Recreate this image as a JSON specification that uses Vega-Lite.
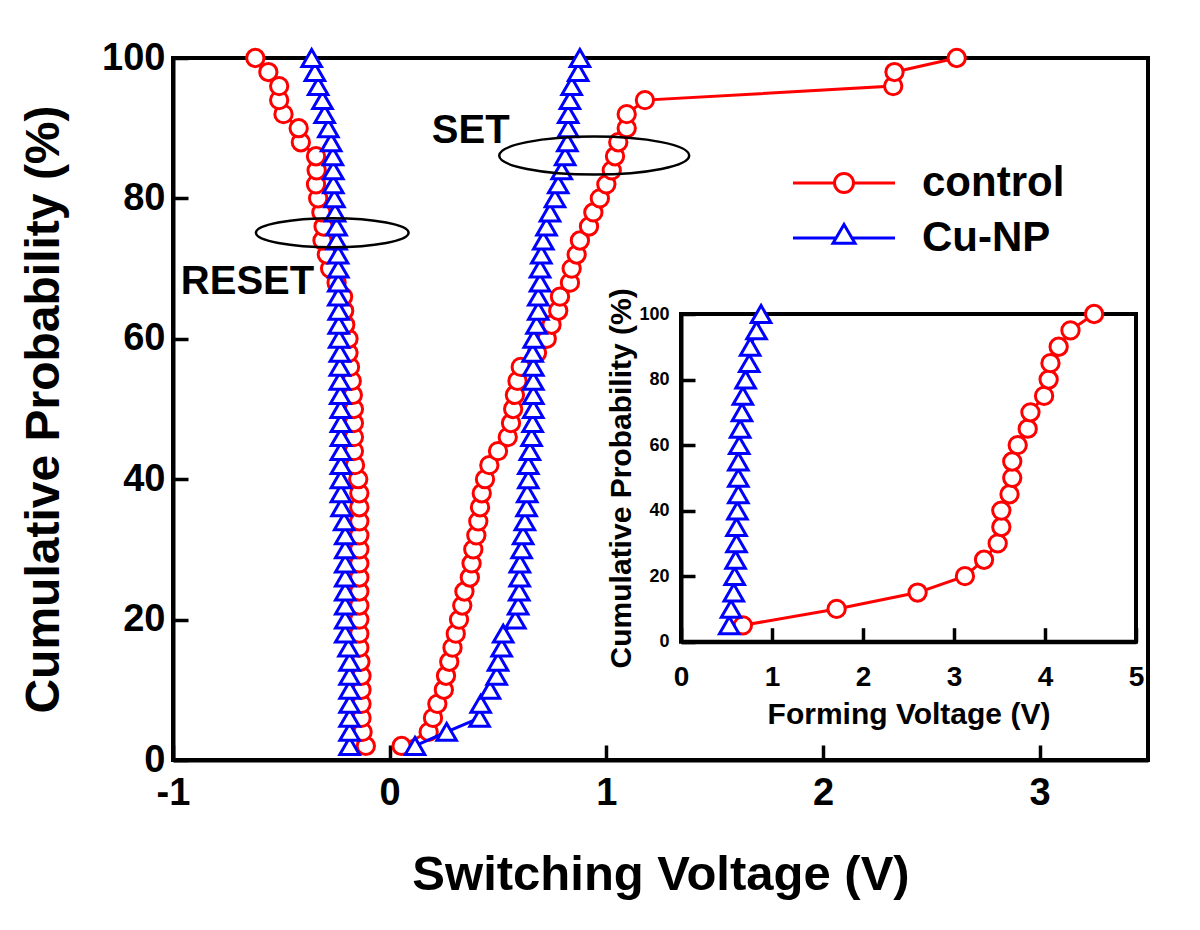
{
  "$schema": "https://vega.github.io/schema/vega-lite/v6.json",
  "width": 975,
  "height": 702,
  "autosize": {"type": "none"},
  "padding": {"left": 173, "top": 58, "right": 52, "bottom": 170},
  "background": "white",
  "config": {
    "font": "Liberation Sans",
    "view": {"stroke": "black", "strokeWidth": 4},
    "axis": {
      "grid": false,
      "domainColor": "black",
      "domainWidth": 4,
      "tickColor": "black",
      "tickWidth": 3,
      "labelColor": "black",
      "titleColor": "black",
      "labelFont": "Liberation Sans",
      "titleFont": "Liberation Sans",
      "labelFontWeight": "bold",
      "titleFontWeight": "bold",
      "labelFlush": false,
      "labelOverlap": false,
      "zindex": 1
    }
  },
  "datasets": {
    "main": [
      {"series": "control", "mode": "RESET", "p": 2, "v": -0.11},
      {"series": "control", "mode": "RESET", "p": 4, "v": -0.125},
      {"series": "control", "mode": "RESET", "p": 6, "v": -0.13},
      {"series": "control", "mode": "RESET", "p": 8, "v": -0.13},
      {"series": "control", "mode": "RESET", "p": 10, "v": -0.13},
      {"series": "control", "mode": "RESET", "p": 12, "v": -0.13},
      {"series": "control", "mode": "RESET", "p": 14, "v": -0.135},
      {"series": "control", "mode": "RESET", "p": 16, "v": -0.14},
      {"series": "control", "mode": "RESET", "p": 18, "v": -0.14},
      {"series": "control", "mode": "RESET", "p": 20, "v": -0.14},
      {"series": "control", "mode": "RESET", "p": 22, "v": -0.14},
      {"series": "control", "mode": "RESET", "p": 24, "v": -0.14},
      {"series": "control", "mode": "RESET", "p": 26, "v": -0.14},
      {"series": "control", "mode": "RESET", "p": 28, "v": -0.14},
      {"series": "control", "mode": "RESET", "p": 30, "v": -0.14},
      {"series": "control", "mode": "RESET", "p": 32, "v": -0.14},
      {"series": "control", "mode": "RESET", "p": 34, "v": -0.14},
      {"series": "control", "mode": "RESET", "p": 36, "v": -0.14},
      {"series": "control", "mode": "RESET", "p": 38, "v": -0.14},
      {"series": "control", "mode": "RESET", "p": 40, "v": -0.145},
      {"series": "control", "mode": "RESET", "p": 42, "v": -0.16},
      {"series": "control", "mode": "RESET", "p": 44, "v": -0.165},
      {"series": "control", "mode": "RESET", "p": 46, "v": -0.165},
      {"series": "control", "mode": "RESET", "p": 48, "v": -0.165},
      {"series": "control", "mode": "RESET", "p": 50, "v": -0.165},
      {"series": "control", "mode": "RESET", "p": 52, "v": -0.17},
      {"series": "control", "mode": "RESET", "p": 54, "v": -0.175},
      {"series": "control", "mode": "RESET", "p": 56, "v": -0.183},
      {"series": "control", "mode": "RESET", "p": 58, "v": -0.19},
      {"series": "control", "mode": "RESET", "p": 60, "v": -0.19},
      {"series": "control", "mode": "RESET", "p": 62, "v": -0.205},
      {"series": "control", "mode": "RESET", "p": 64, "v": -0.21},
      {"series": "control", "mode": "RESET", "p": 66, "v": -0.215},
      {"series": "control", "mode": "RESET", "p": 68, "v": -0.245},
      {"series": "control", "mode": "RESET", "p": 70, "v": -0.275},
      {"series": "control", "mode": "RESET", "p": 72, "v": -0.29},
      {"series": "control", "mode": "RESET", "p": 74, "v": -0.31},
      {"series": "control", "mode": "RESET", "p": 76, "v": -0.305},
      {"series": "control", "mode": "RESET", "p": 78, "v": -0.315},
      {"series": "control", "mode": "RESET", "p": 80, "v": -0.33},
      {"series": "control", "mode": "RESET", "p": 82, "v": -0.34},
      {"series": "control", "mode": "RESET", "p": 84, "v": -0.337},
      {"series": "control", "mode": "RESET", "p": 86, "v": -0.34},
      {"series": "control", "mode": "RESET", "p": 88, "v": -0.41},
      {"series": "control", "mode": "RESET", "p": 90, "v": -0.42},
      {"series": "control", "mode": "RESET", "p": 92, "v": -0.49},
      {"series": "control", "mode": "RESET", "p": 94, "v": -0.51},
      {"series": "control", "mode": "RESET", "p": 96, "v": -0.51},
      {"series": "control", "mode": "RESET", "p": 98, "v": -0.56},
      {"series": "control", "mode": "RESET", "p": 100, "v": -0.62},
      {"series": "control", "mode": "SET", "p": 2, "v": 0.055},
      {"series": "control", "mode": "SET", "p": 4, "v": 0.18},
      {"series": "control", "mode": "SET", "p": 6, "v": 0.2},
      {"series": "control", "mode": "SET", "p": 8, "v": 0.22},
      {"series": "control", "mode": "SET", "p": 10, "v": 0.25},
      {"series": "control", "mode": "SET", "p": 12, "v": 0.26},
      {"series": "control", "mode": "SET", "p": 14, "v": 0.275},
      {"series": "control", "mode": "SET", "p": 16, "v": 0.29},
      {"series": "control", "mode": "SET", "p": 18, "v": 0.305},
      {"series": "control", "mode": "SET", "p": 20, "v": 0.32},
      {"series": "control", "mode": "SET", "p": 22, "v": 0.335},
      {"series": "control", "mode": "SET", "p": 24, "v": 0.345},
      {"series": "control", "mode": "SET", "p": 26, "v": 0.37},
      {"series": "control", "mode": "SET", "p": 28, "v": 0.378},
      {"series": "control", "mode": "SET", "p": 30, "v": 0.386},
      {"series": "control", "mode": "SET", "p": 32, "v": 0.4},
      {"series": "control", "mode": "SET", "p": 34, "v": 0.409},
      {"series": "control", "mode": "SET", "p": 36, "v": 0.417},
      {"series": "control", "mode": "SET", "p": 38, "v": 0.425},
      {"series": "control", "mode": "SET", "p": 40, "v": 0.44},
      {"series": "control", "mode": "SET", "p": 42, "v": 0.46},
      {"series": "control", "mode": "SET", "p": 44, "v": 0.5},
      {"series": "control", "mode": "SET", "p": 46, "v": 0.545},
      {"series": "control", "mode": "SET", "p": 48, "v": 0.56},
      {"series": "control", "mode": "SET", "p": 50, "v": 0.57},
      {"series": "control", "mode": "SET", "p": 52, "v": 0.578},
      {"series": "control", "mode": "SET", "p": 54, "v": 0.59},
      {"series": "control", "mode": "SET", "p": 56, "v": 0.605},
      {"series": "control", "mode": "SET", "p": 58, "v": 0.68},
      {"series": "control", "mode": "SET", "p": 60, "v": 0.725},
      {"series": "control", "mode": "SET", "p": 62, "v": 0.747},
      {"series": "control", "mode": "SET", "p": 64, "v": 0.778},
      {"series": "control", "mode": "SET", "p": 66, "v": 0.786},
      {"series": "control", "mode": "SET", "p": 68, "v": 0.832},
      {"series": "control", "mode": "SET", "p": 70, "v": 0.84},
      {"series": "control", "mode": "SET", "p": 72, "v": 0.863},
      {"series": "control", "mode": "SET", "p": 74, "v": 0.878},
      {"series": "control", "mode": "SET", "p": 76, "v": 0.92},
      {"series": "control", "mode": "SET", "p": 78, "v": 0.94},
      {"series": "control", "mode": "SET", "p": 80, "v": 0.97},
      {"series": "control", "mode": "SET", "p": 82, "v": 1.0},
      {"series": "control", "mode": "SET", "p": 84, "v": 1.025},
      {"series": "control", "mode": "SET", "p": 86, "v": 1.04},
      {"series": "control", "mode": "SET", "p": 88, "v": 1.055},
      {"series": "control", "mode": "SET", "p": 90, "v": 1.094},
      {"series": "control", "mode": "SET", "p": 92, "v": 1.094},
      {"series": "control", "mode": "SET", "p": 94, "v": 1.178},
      {"series": "control", "mode": "SET", "p": 96, "v": 2.324},
      {"series": "control", "mode": "SET", "p": 98, "v": 2.33},
      {"series": "control", "mode": "SET", "p": 100, "v": 2.617},
      {"series": "Cu-NP", "mode": "RESET", "p": 2, "v": -0.185},
      {"series": "Cu-NP", "mode": "RESET", "p": 4, "v": -0.185},
      {"series": "Cu-NP", "mode": "RESET", "p": 6, "v": -0.185},
      {"series": "Cu-NP", "mode": "RESET", "p": 8, "v": -0.185},
      {"series": "Cu-NP", "mode": "RESET", "p": 10, "v": -0.185},
      {"series": "Cu-NP", "mode": "RESET", "p": 12, "v": -0.185},
      {"series": "Cu-NP", "mode": "RESET", "p": 14, "v": -0.185},
      {"series": "Cu-NP", "mode": "RESET", "p": 16, "v": -0.19},
      {"series": "Cu-NP", "mode": "RESET", "p": 18, "v": -0.205},
      {"series": "Cu-NP", "mode": "RESET", "p": 20, "v": -0.205},
      {"series": "Cu-NP", "mode": "RESET", "p": 22, "v": -0.205},
      {"series": "Cu-NP", "mode": "RESET", "p": 24, "v": -0.205},
      {"series": "Cu-NP", "mode": "RESET", "p": 26, "v": -0.205},
      {"series": "Cu-NP", "mode": "RESET", "p": 28, "v": -0.205},
      {"series": "Cu-NP", "mode": "RESET", "p": 30, "v": -0.205},
      {"series": "Cu-NP", "mode": "RESET", "p": 32, "v": -0.205},
      {"series": "Cu-NP", "mode": "RESET", "p": 34, "v": -0.21},
      {"series": "Cu-NP", "mode": "RESET", "p": 36, "v": -0.222},
      {"series": "Cu-NP", "mode": "RESET", "p": 38, "v": -0.225},
      {"series": "Cu-NP", "mode": "RESET", "p": 40, "v": -0.225},
      {"series": "Cu-NP", "mode": "RESET", "p": 42, "v": -0.225},
      {"series": "Cu-NP", "mode": "RESET", "p": 44, "v": -0.225},
      {"series": "Cu-NP", "mode": "RESET", "p": 46, "v": -0.225},
      {"series": "Cu-NP", "mode": "RESET", "p": 48, "v": -0.225},
      {"series": "Cu-NP", "mode": "RESET", "p": 50, "v": -0.226},
      {"series": "Cu-NP", "mode": "RESET", "p": 52, "v": -0.228},
      {"series": "Cu-NP", "mode": "RESET", "p": 54, "v": -0.23},
      {"series": "Cu-NP", "mode": "RESET", "p": 56, "v": -0.23},
      {"series": "Cu-NP", "mode": "RESET", "p": 58, "v": -0.23},
      {"series": "Cu-NP", "mode": "RESET", "p": 60, "v": -0.233},
      {"series": "Cu-NP", "mode": "RESET", "p": 62, "v": -0.235},
      {"series": "Cu-NP", "mode": "RESET", "p": 64, "v": -0.235},
      {"series": "Cu-NP", "mode": "RESET", "p": 66, "v": -0.237},
      {"series": "Cu-NP", "mode": "RESET", "p": 68, "v": -0.237},
      {"series": "Cu-NP", "mode": "RESET", "p": 70, "v": -0.237},
      {"series": "Cu-NP", "mode": "RESET", "p": 72, "v": -0.238},
      {"series": "Cu-NP", "mode": "RESET", "p": 74, "v": -0.245},
      {"series": "Cu-NP", "mode": "RESET", "p": 76, "v": -0.245},
      {"series": "Cu-NP", "mode": "RESET", "p": 78, "v": -0.252},
      {"series": "Cu-NP", "mode": "RESET", "p": 80, "v": -0.255},
      {"series": "Cu-NP", "mode": "RESET", "p": 82, "v": -0.26},
      {"series": "Cu-NP", "mode": "RESET", "p": 84, "v": -0.26},
      {"series": "Cu-NP", "mode": "RESET", "p": 86, "v": -0.262},
      {"series": "Cu-NP", "mode": "RESET", "p": 88, "v": -0.27},
      {"series": "Cu-NP", "mode": "RESET", "p": 90, "v": -0.283},
      {"series": "Cu-NP", "mode": "RESET", "p": 92, "v": -0.3},
      {"series": "Cu-NP", "mode": "RESET", "p": 94, "v": -0.31},
      {"series": "Cu-NP", "mode": "RESET", "p": 96, "v": -0.33},
      {"series": "Cu-NP", "mode": "RESET", "p": 98, "v": -0.345},
      {"series": "Cu-NP", "mode": "RESET", "p": 100, "v": -0.36},
      {"series": "Cu-NP", "mode": "SET", "p": 2, "v": 0.117},
      {"series": "Cu-NP", "mode": "SET", "p": 4, "v": 0.263},
      {"series": "Cu-NP", "mode": "SET", "p": 6, "v": 0.415},
      {"series": "Cu-NP", "mode": "SET", "p": 8, "v": 0.42},
      {"series": "Cu-NP", "mode": "SET", "p": 10, "v": 0.463},
      {"series": "Cu-NP", "mode": "SET", "p": 12, "v": 0.494},
      {"series": "Cu-NP", "mode": "SET", "p": 14, "v": 0.5},
      {"series": "Cu-NP", "mode": "SET", "p": 16, "v": 0.517},
      {"series": "Cu-NP", "mode": "SET", "p": 18, "v": 0.524},
      {"series": "Cu-NP", "mode": "SET", "p": 20, "v": 0.58},
      {"series": "Cu-NP", "mode": "SET", "p": 22, "v": 0.593},
      {"series": "Cu-NP", "mode": "SET", "p": 24, "v": 0.598},
      {"series": "Cu-NP", "mode": "SET", "p": 26, "v": 0.6},
      {"series": "Cu-NP", "mode": "SET", "p": 28, "v": 0.601},
      {"series": "Cu-NP", "mode": "SET", "p": 30, "v": 0.609},
      {"series": "Cu-NP", "mode": "SET", "p": 32, "v": 0.616},
      {"series": "Cu-NP", "mode": "SET", "p": 34, "v": 0.624},
      {"series": "Cu-NP", "mode": "SET", "p": 36, "v": 0.632},
      {"series": "Cu-NP", "mode": "SET", "p": 38, "v": 0.635},
      {"series": "Cu-NP", "mode": "SET", "p": 40, "v": 0.64},
      {"series": "Cu-NP", "mode": "SET", "p": 42, "v": 0.64},
      {"series": "Cu-NP", "mode": "SET", "p": 44, "v": 0.647},
      {"series": "Cu-NP", "mode": "SET", "p": 46, "v": 0.655},
      {"series": "Cu-NP", "mode": "SET", "p": 48, "v": 0.66},
      {"series": "Cu-NP", "mode": "SET", "p": 50, "v": 0.663},
      {"series": "Cu-NP", "mode": "SET", "p": 52, "v": 0.663},
      {"series": "Cu-NP", "mode": "SET", "p": 54, "v": 0.663},
      {"series": "Cu-NP", "mode": "SET", "p": 56, "v": 0.663},
      {"series": "Cu-NP", "mode": "SET", "p": 58, "v": 0.66},
      {"series": "Cu-NP", "mode": "SET", "p": 60, "v": 0.665},
      {"series": "Cu-NP", "mode": "SET", "p": 62, "v": 0.678},
      {"series": "Cu-NP", "mode": "SET", "p": 64, "v": 0.686},
      {"series": "Cu-NP", "mode": "SET", "p": 66, "v": 0.686},
      {"series": "Cu-NP", "mode": "SET", "p": 68, "v": 0.694},
      {"series": "Cu-NP", "mode": "SET", "p": 70, "v": 0.694},
      {"series": "Cu-NP", "mode": "SET", "p": 72, "v": 0.7},
      {"series": "Cu-NP", "mode": "SET", "p": 74, "v": 0.709},
      {"series": "Cu-NP", "mode": "SET", "p": 76, "v": 0.724},
      {"series": "Cu-NP", "mode": "SET", "p": 78, "v": 0.74},
      {"series": "Cu-NP", "mode": "SET", "p": 80, "v": 0.763},
      {"series": "Cu-NP", "mode": "SET", "p": 82, "v": 0.778},
      {"series": "Cu-NP", "mode": "SET", "p": 84, "v": 0.794},
      {"series": "Cu-NP", "mode": "SET", "p": 86, "v": 0.81},
      {"series": "Cu-NP", "mode": "SET", "p": 88, "v": 0.82},
      {"series": "Cu-NP", "mode": "SET", "p": 90, "v": 0.824},
      {"series": "Cu-NP", "mode": "SET", "p": 92, "v": 0.824},
      {"series": "Cu-NP", "mode": "SET", "p": 94, "v": 0.832},
      {"series": "Cu-NP", "mode": "SET", "p": 96, "v": 0.84},
      {"series": "Cu-NP", "mode": "SET", "p": 98, "v": 0.87},
      {"series": "Cu-NP", "mode": "SET", "p": 100, "v": 0.878}
    ],
    "inset": [
      {"series": "control", "p": 5, "v": 0.68},
      {"series": "control", "p": 10, "v": 1.71},
      {"series": "control", "p": 15, "v": 2.6},
      {"series": "control", "p": 20, "v": 3.12},
      {"series": "control", "p": 25, "v": 3.33},
      {"series": "control", "p": 30, "v": 3.48},
      {"series": "control", "p": 35, "v": 3.52},
      {"series": "control", "p": 40, "v": 3.52},
      {"series": "control", "p": 45, "v": 3.61},
      {"series": "control", "p": 50, "v": 3.64},
      {"series": "control", "p": 55, "v": 3.64},
      {"series": "control", "p": 60, "v": 3.7},
      {"series": "control", "p": 65, "v": 3.81},
      {"series": "control", "p": 70, "v": 3.84},
      {"series": "control", "p": 75, "v": 3.99},
      {"series": "control", "p": 80, "v": 4.04},
      {"series": "control", "p": 85, "v": 4.06},
      {"series": "control", "p": 90, "v": 4.15},
      {"series": "control", "p": 95, "v": 4.28},
      {"series": "control", "p": 100, "v": 4.54},
      {"series": "Cu-NP", "p": 5, "v": 0.53},
      {"series": "Cu-NP", "p": 10, "v": 0.55},
      {"series": "Cu-NP", "p": 15, "v": 0.58},
      {"series": "Cu-NP", "p": 20, "v": 0.59},
      {"series": "Cu-NP", "p": 25, "v": 0.6},
      {"series": "Cu-NP", "p": 30, "v": 0.61},
      {"series": "Cu-NP", "p": 35, "v": 0.61},
      {"series": "Cu-NP", "p": 40, "v": 0.62},
      {"series": "Cu-NP", "p": 45, "v": 0.63},
      {"series": "Cu-NP", "p": 50, "v": 0.63},
      {"series": "Cu-NP", "p": 55, "v": 0.63},
      {"series": "Cu-NP", "p": 60, "v": 0.64},
      {"series": "Cu-NP", "p": 65, "v": 0.65},
      {"series": "Cu-NP", "p": 70, "v": 0.67},
      {"series": "Cu-NP", "p": 75, "v": 0.68},
      {"series": "Cu-NP", "p": 80, "v": 0.71},
      {"series": "Cu-NP", "p": 85, "v": 0.75},
      {"series": "Cu-NP", "p": 90, "v": 0.76},
      {"series": "Cu-NP", "p": 95, "v": 0.83},
      {"series": "Cu-NP", "p": 100, "v": 0.88}
    ],
    "notes": [
      {"note": "SET", "kind": "label", "v": 0.374, "p": 89.6},
      {"note": "RESET", "kind": "label", "v": -0.656, "p": 68.1},
      {"note": "SET", "kind": "ellipse", "v": 0.944, "p": 86.1},
      {"note": "RESET", "kind": "ellipse", "v": -0.265, "p": 75.1}
    ],
    "legendRows": [
      {"series": "control"},
      {"series": "Cu-NP"}
    ]
  },
  "layer": [
    {
      "layer": [
        {
          "data": {"name": "main"},
          "transform": [{"filter": "datum.series === 'control'"}],
          "mark": {"type": "line", "stroke": "#ff0000", "strokeWidth": 3},
          "encoding": {
            "x": {
              "field": "v", "type": "quantitative",
              "scale": {"domain": [-1, 3.5], "nice": false, "zero": false},
              "axis": {
                "values": [-1, 0, 1, 2, 3],
                "labelExpr": "'' + datum.value",
                "labelFontSize": 38,
                "ticks": false,
                "tickSize": 0,
                "labelPadding": 14,
                "title": "Switching Voltage (V)",
                "titleFontSize": 49,
                "titlePadding": 38
              }
            },
            "y": {
              "field": "p", "type": "quantitative",
              "scale": {"domain": [0, 100], "nice": false, "zero": false},
              "axis": {
                "values": [0, 20, 40, 60, 80, 100],
                "labelFontSize": 38,
                "ticks": false,
                "tickSize": 0,
                "labelPadding": 8,
                "title": "Cumulative Probability (%)",
                "titleFontSize": 48,
                "titlePadding": 33
              }
            },
            "detail": {"field": "mode"},
            "order": {"field": "p", "type": "quantitative"}
          }
        },
        {
          "data": {"name": "main"},
          "transform": [{"filter": "datum.series === 'control'"}],
          "mark": {"type": "point", "shape": "circle", "filled": true, "fill": "white", "stroke": "#ff0000", "strokeWidth": 3, "size": 300, "opacity": 1},
          "encoding": {
            "x": {"field": "v", "type": "quantitative"},
            "y": {"field": "p", "type": "quantitative"}
          }
        },
        {
          "data": {"name": "main"},
          "transform": [{"filter": "datum.series === 'Cu-NP'"}],
          "mark": {"type": "line", "stroke": "#0000ff", "strokeWidth": 3},
          "encoding": {
            "x": {"field": "v", "type": "quantitative"},
            "y": {"field": "p", "type": "quantitative"},
            "detail": {"field": "mode"},
            "order": {"field": "p", "type": "quantitative"}
          }
        },
        {
          "data": {"name": "main"},
          "transform": [{"filter": "datum.series === 'Cu-NP'"}],
          "mark": {"type": "point", "shape": "triangle-up", "filled": true, "fill": "white", "stroke": "#0000ff", "strokeWidth": 3, "size": 380, "opacity": 1},
          "encoding": {
            "x": {"field": "v", "type": "quantitative"},
            "y": {"field": "p", "type": "quantitative"}
          }
        },
        {
          "data": {"name": "notes"},
          "transform": [{"filter": "datum.kind === 'ellipse' && datum.note === 'SET'"}],
          "mark": {"type": "point", "shape": "M -1 0 A 1 0.2 0 1 1 1 0 A 1 0.2 0 1 1 -1 0 Z", "size": 36100, "filled": false, "stroke": "black", "strokeWidth": 2.5, "opacity": 1},
          "encoding": {
            "x": {"field": "v", "type": "quantitative"},
            "y": {"field": "p", "type": "quantitative"}
          }
        },
        {
          "data": {"name": "notes"},
          "transform": [{"filter": "datum.kind === 'ellipse' && datum.note === 'RESET'"}],
          "mark": {"type": "point", "shape": "M -1 0 A 1 0.19 0 1 1 1 0 A 1 0.19 0 1 1 -1 0 Z", "size": 23300, "filled": false, "stroke": "black", "strokeWidth": 2.5, "opacity": 1},
          "encoding": {
            "x": {"field": "v", "type": "quantitative"},
            "y": {"field": "p", "type": "quantitative"}
          }
        },
        {
          "data": {"name": "notes"},
          "transform": [{"filter": "datum.kind === 'label'"}],
          "mark": {"type": "text", "font": "Liberation Sans", "fontSize": 40, "fontWeight": "bold", "color": "black", "align": "center", "baseline": "middle"},
          "encoding": {
            "x": {"field": "v", "type": "quantitative"},
            "y": {"field": "p", "type": "quantitative"},
            "text": {"field": "note"}
          }
        },
        {
          "data": {"name": "legendRows"},
          "mark": {"type": "point", "filled": true, "fill": "white", "strokeWidth": 3, "opacity": 0},
          "encoding": {
            "stroke": {
              "field": "series", "type": "nominal",
              "scale": {"domain": ["control", "Cu-NP"], "range": ["#ff0000", "#0000ff"]},
              "legend": {
                "title": null,
                "orient": "none",
                "legendX": 650,
                "legendY": 104,
                "padding": 0,
                "symbolSize": 484,
                "symbolStrokeWidth": 3,
                "symbolOpacity": 1,
                "symbolFillColor": "white",
                "labelFont": "Liberation Sans",
                "labelFontSize": 42,
                "labelFontWeight": "bold",
                "labelColor": "black",
                "labelOffset": 57,
                "rowPadding": 13
              }
            },
            "shape": {
              "field": "series", "type": "nominal",
              "scale": {
                "domain": ["control", "Cu-NP"],
                "range": [
                  "M -4.64 0 L -0.864 0 M 0.864 0 L 4.64 0 M -0.864 0 A 0.864 0.864 0 1 1 0.864 0 A 0.864 0.864 0 1 1 -0.864 0 Z",
                  "M -4.64 0 L -0.72 0 M 0.72 0 L 4.64 0 M 0 -1.23 L 1 0.47 L -1 0.47 Z"
                ]
              }
            }
          }
        }
      ]
    },
    {
      "layer": [
        {
          "data": {"values": [{}]},
          "mark": {"type": "rect", "filled": false, "stroke": "black", "strokeWidth": 4},
          "encoding": {
            "x": {"datum": 0, "type": "quantitative"},
            "x2": {"datum": 5},
            "y": {"datum": 0, "type": "quantitative"},
            "y2": {"datum": 100}
          }
        },
        {
          "data": {"name": "inset"},
          "transform": [{"filter": "datum.series === 'control'"}],
          "mark": {"type": "line", "stroke": "#ff0000", "strokeWidth": 3},
          "encoding": {
            "x": {
              "field": "v", "type": "quantitative",
              "scale": {"domain": [0, 5], "range": [508, 963], "nice": false, "zero": false},
              "axis": {
                "orient": "bottom",
                "offset": -118.3,
                "values": [0, 1, 2, 3, 4, 5],
                "labelExpr": "'' + datum.value",
                "labelFontSize": 28,
                "ticks": false,
                "tickSize": 0,
                "labelPadding": 22,
                "title": "Forming Voltage (V)",
                "titleFontSize": 30,
                "titlePadding": 8
              }
            },
            "y": {
              "field": "p", "type": "quantitative",
              "scale": {"domain": [0, 100], "range": [583.7, 256], "nice": false, "zero": false},
              "axis": {
                "orient": "left",
                "offset": -508,
                "values": [0, 20, 40, 60, 80, 100],
                "labelFontSize": 18,
                "ticks": false,
                "tickSize": 0,
                "labelPadding": 12,
                "title": "Cumulative Probability (%)",
                "titleFontSize": 30,
                "titlePadding": 2
              }
            },
            "order": {"field": "p", "type": "quantitative"}
          }
        },
        {
          "data": {"name": "inset"},
          "transform": [{"filter": "datum.series === 'control'"}],
          "mark": {"type": "point", "shape": "circle", "filled": true, "fill": "white", "stroke": "#ff0000", "strokeWidth": 3, "size": 300, "opacity": 1},
          "encoding": {
            "x": {"field": "v", "type": "quantitative"},
            "y": {"field": "p", "type": "quantitative"}
          }
        },
        {
          "data": {"name": "inset"},
          "transform": [{"filter": "datum.series === 'Cu-NP'"}],
          "mark": {"type": "line", "stroke": "#0000ff", "strokeWidth": 3},
          "encoding": {
            "x": {"field": "v", "type": "quantitative"},
            "y": {"field": "p", "type": "quantitative"},
            "order": {"field": "p", "type": "quantitative"}
          }
        },
        {
          "data": {"name": "inset"},
          "transform": [{"filter": "datum.series === 'Cu-NP'"}],
          "mark": {"type": "point", "shape": "triangle-up", "filled": true, "fill": "white", "stroke": "#0000ff", "strokeWidth": 3, "size": 380, "opacity": 1},
          "encoding": {
            "x": {"field": "v", "type": "quantitative"},
            "y": {"field": "p", "type": "quantitative"}
          }
        }
      ]
    },
    {
      "layer": [
        {
          "data": {"name": "main"},
          "mark": {"type": "point", "opacity": 0},
          "encoding": {
            "x": {
              "field": "v", "type": "quantitative",
              "scale": {"domain": [-1, 3.5], "nice": false, "zero": false},
              "axis": {"orient": "top", "offset": -702, "values": [-1, 0, 1, 2, 3], "labels": false, "domain": false, "ticks": true, "tickSize": 15, "tickWidth": 3.5, "tickColor": "#000000", "tickOpacity": 1, "title": null}
            },
            "y": {
              "field": "p", "type": "quantitative",
              "scale": {"domain": [0, 100], "nice": false, "zero": false},
              "axis": {"orient": "right", "offset": -975, "values": [0, 20, 40, 60, 80, 100], "labels": false, "domain": false, "ticks": true, "tickSize": 15, "tickWidth": 3.5, "tickColor": "#000000", "tickOpacity": 1, "title": null}
            }
          }
        }
      ]
    },
    {
      "layer": [
        {
          "data": {"name": "inset"},
          "mark": {"type": "point", "opacity": 0},
          "encoding": {
            "x": {
              "field": "v", "type": "quantitative",
              "scale": {"domain": [0, 5], "range": [508, 963], "nice": false, "zero": false},
              "axis": {"orient": "top", "offset": -583.7, "values": [0, 1, 2, 3, 4, 5], "labels": false, "domain": false, "ticks": true, "tickSize": 14, "tickWidth": 3.5, "tickColor": "#000000", "tickOpacity": 1, "title": null}
            },
            "y": {
              "field": "p", "type": "quantitative",
              "scale": {"domain": [0, 100], "range": [583.7, 256], "nice": false, "zero": false},
              "axis": {"orient": "right", "offset": -467, "values": [0, 20, 40, 60, 80, 100], "labels": false, "domain": false, "ticks": true, "tickSize": 14, "tickWidth": 3.5, "tickColor": "#000000", "tickOpacity": 1, "title": null}
            }
          }
        }
      ]
    }
  ],
  "resolve": {
    "scale": {"x": "independent", "y": "independent"},
    "axis": {"x": "independent", "y": "independent"}
  }
}
